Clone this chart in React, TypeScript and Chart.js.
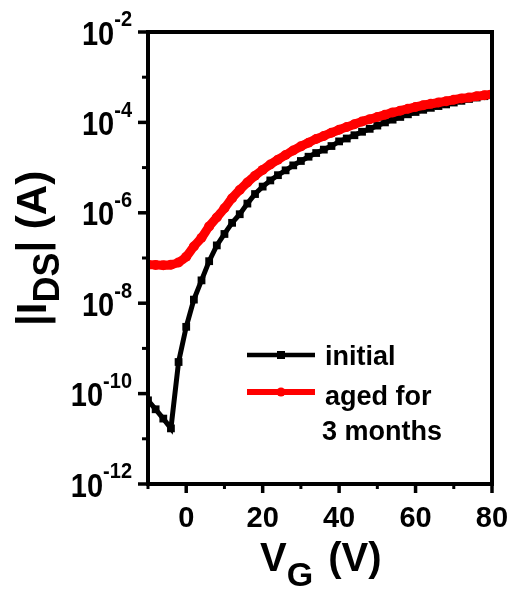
import React, { useEffect, useRef } from "react";
import { Chart, registerables } from "chart.js";
Chart.register(...registerables);

const VG = [-10, -8, -6, -4, -2, 0, 2, 4, 6, 8, 10, 12, 14, 16, 18, 20, 22, 24, 26, 28, 30, 32, 34, 36, 38, 40, 42, 44, 46, 48, 50, 52, 54, 56, 58, 60, 62, 64, 66, 68, 70, 72, 74, 76, 78, 80];
const initialIDS = [7.1e-11, 4.5e-11, 2.8e-11, 1.7e-11, 5e-10, 3e-9, 1.2e-8, 3.2e-8, 8.5e-8, 1.9e-7, 3.4e-7, 6e-7, 9.3e-7, 1.6e-6, 2.6e-6, 3.8e-6, 5.2e-6, 6.8e-6, 8.7e-6, 1.12e-5, 1.4e-5, 1.74e-5, 2.1e-5, 2.5e-5, 3.0e-5, 3.8e-5, 4.4e-5, 5.2e-5, 6.2e-5, 7.2e-5, 8.5e-5, 1.0e-4, 1.15e-4, 1.32e-4, 1.51e-4, 1.7e-4, 1.9e-4, 2.1e-4, 2.3e-4, 2.5e-4, 2.75e-4, 3.0e-4, 3.3e-4, 3.55e-4, 3.8e-4, 4.1e-4];
const agedIDS = [7.1e-8, 7.0e-8, 6.9e-8, 7.1e-8, 8e-8, 1.07e-7, 1.8e-7, 2.8e-7, 5.0e-7, 7.9e-7, 1.26e-6, 2.1e-6, 3.2e-6, 4.7e-6, 6.6e-6, 8.9e-6, 1.17e-5, 1.5e-5, 1.9e-5, 2.4e-5, 2.95e-5, 3.55e-5, 4.3e-5, 5.0e-5, 5.9e-5, 6.9e-5, 7.9e-5, 9.1e-5, 1.05e-4, 1.17e-4, 1.32e-4, 1.48e-4, 1.66e-4, 1.82e-4, 2.0e-4, 2.2e-4, 2.4e-4, 2.57e-4, 2.75e-4, 2.95e-4, 3.16e-4, 3.4e-4, 3.55e-4, 3.8e-4, 4.0e-4, 4.2e-4];

const yMajorExps = [-2, -4, -6, -8, -10, -12];
const yMinorExps = [-3, -5, -7, -9, -11];
const xMajorTicks = [0, 20, 40, 60, 80];
const xMinorTicks = [-10, 10, 30, 50, 70];
const seriesNames = ["initial", "aged for\n3 months"];
const seriesColors = ["#000000", "#ff0000"];

const FONT = '"Liberation Sans", Arial, sans-serif';

const decoPlugin = {
  id: "deco",
  afterDraw(chart: any) {
    const { ctx, chartArea: a, scales } = chart;
    const xs = scales.x;
    const ys = scales.y;
    ctx.save();
    ctx.strokeStyle = "#000";
    ctx.fillStyle = "#000";
    ctx.lineWidth = 4;
    ctx.lineCap = "butt";
    ctx.strokeRect(a.left, a.top, a.right - a.left, a.bottom - a.top);
    const seg = (x1: number, y1: number, x2: number, y2: number, w: number) => {
      ctx.lineWidth = w;
      ctx.beginPath();
      ctx.moveTo(x1, y1);
      ctx.lineTo(x2, y2);
      ctx.stroke();
    };
    for (const e of yMajorExps) {
      const py = ys.getPixelForValue(Math.pow(10, e));
      seg(a.left - 10, py, a.left, py, 3.5);
    }
    for (const e of yMinorExps) {
      const py = ys.getPixelForValue(Math.pow(10, e));
      seg(a.left - 6, py, a.left, py, 3);
    }
    for (const v of xMajorTicks) {
      const px = xs.getPixelForValue(v);
      seg(px, a.bottom, px, a.bottom + 9, 3.5);
    }
    for (const v of xMinorTicks) {
      const px = xs.getPixelForValue(v);
      seg(px, a.bottom, px, a.bottom + 5, 3);
    }
    // y tick labels 10^n
    ctx.textBaseline = "alphabetic";
    ctx.textAlign = "left";
    for (const e of yMajorExps) {
      const py = ys.getPixelForValue(Math.pow(10, e));
      const expStr = String(e);
      ctx.font = `bold 20px ${FONT}`;
      const ew = ctx.measureText(expStr).width;
      ctx.font = `bold 29px ${FONT}`;
      const bw = ctx.measureText("10").width;
      const right = a.left - 16;
      ctx.save();
      ctx.translate(0, py);
      ctx.scale(1, 1.14);
      ctx.fillText("10", right - ew - bw, 11);
      ctx.font = `bold 20px ${FONT}`;
      ctx.fillText(expStr, right - ew, -5);
      ctx.restore();
    }
    // x tick labels
    ctx.textAlign = "center";
    ctx.font = `bold 29px ${FONT}`;
    for (const v of xMajorTicks) {
      const px = xs.getPixelForValue(v);
      ctx.fillText(String(v), px, a.bottom + 43);
    }
    // x title V_G (V)
    ctx.textAlign = "left";
    const bigF = `bold 40px ${FONT}`;
    const subF = `bold 34px ${FONT}`;
    {
      let x0 = 260;
      const by = 571;
      ctx.font = bigF;
      ctx.fillText("V", x0, by);
      x0 += ctx.measureText("V").width;
      ctx.font = subF;
      ctx.fillText("G", x0, by + 15);
      x0 += ctx.measureText("G").width + 4;
      ctx.font = bigF;
      ctx.fillText(" (V)", x0, by);
    }
    // y title |I_DS| (A)
    {
      const yBig = `bold 42px ${FONT}`;
      const ySub = `bold 36px ${FONT}`;
      const parts: [string, string, number][] = [
        ["|I", yBig, 0],
        ["DS", ySub, 13],
        ["| (A)", yBig, 0],
      ];
      ctx.save();
      ctx.translate(46, 326);
      ctx.rotate(-Math.PI / 2);
      let x0 = 0;
      for (const [t, f, dy] of parts) {
        ctx.font = f;
        ctx.fillText(t, x0, dy);
        x0 += ctx.measureText(t).width;
      }
      ctx.restore();
    }
    // legend
    {
      const rows = [355, 392];
      ctx.font = `bold 27px ${FONT}`;
      ctx.textAlign = "left";
      ctx.textBaseline = "alphabetic";
      seriesNames.forEach((name, i) => {
        const ly = rows[i];
        ctx.strokeStyle = seriesColors[i];
        ctx.fillStyle = seriesColors[i];
        seg(247, ly, 315, ly, i === 0 ? 4.5 : 6);
        ctx.beginPath();
        if (i === 0) {
          ctx.rect(277, ly - 4, 8, 8);
        } else {
          ctx.arc(281, ly, 4.5, 0, Math.PI * 2);
        }
        ctx.fill();
        ctx.fillStyle = "#000";
        const lines = name.split("\n");
        lines.forEach((ln, j) => {
          ctx.fillText(ln, j === 0 ? 325 : 322, ly + 10 + (i === 1 ? 3 : 0) + j * 35);
        });
      });
    }
    ctx.restore();
  },
};

export default function App() {
  const ref = useRef<HTMLCanvasElement | null>(null);
  useEffect(() => {
    document.body.style.margin = "0";
    const canvas = ref.current!;
    const chart = new Chart(canvas, {
      type: "line",
      data: {
        datasets: [
          {
            label: "aged for 3 months",
            data: VG.map((v, i) => ({ x: v, y: agedIDS[i] })),
            borderColor: seriesColors[1],
            backgroundColor: seriesColors[1],
            borderWidth: 9,
            pointStyle: "circle",
            pointRadius: 5,
            pointBorderWidth: 0,
            tension: 0.3,
          },
          {
            label: "initial",
            data: VG.map((v, i) => ({ x: v, y: initialIDS[i] })),
            borderColor: seriesColors[0],
            backgroundColor: seriesColors[0],
            borderWidth: 5,
            pointStyle: "rect",
            pointRadius: 5.5,
            pointBorderWidth: 0,
            tension: 0,
          },
        ],
      },
      options: {
        animation: false,
        responsive: false,
        maintainAspectRatio: false,
        layout: { padding: { top: 32, right: 23, left: 0, bottom: 0 } },
        plugins: { legend: { display: false }, tooltip: { enabled: false } },
        scales: {
          x: {
            type: "linear",
            min: -10,
            max: 80,
            ticks: { display: false },
            grid: { display: false },
            border: { display: false },
            afterFit: (s: any) => {
              s.height = 106;
            },
          },
          y: {
            type: "logarithmic",
            min: 1e-12,
            max: 1e-2,
            ticks: { display: false },
            grid: { display: false },
            border: { display: false },
            afterFit: (s: any) => {
              s.width = 148;
            },
          },
        },
      },
      plugins: [decoPlugin],
    });
    return () => chart.destroy();
  }, []);
  return (
    <div style={{ width: 515, height: 590 }}>
      <canvas ref={ref} width={515} height={590} style={{ display: "block" }} />
    </div>
  );
}
